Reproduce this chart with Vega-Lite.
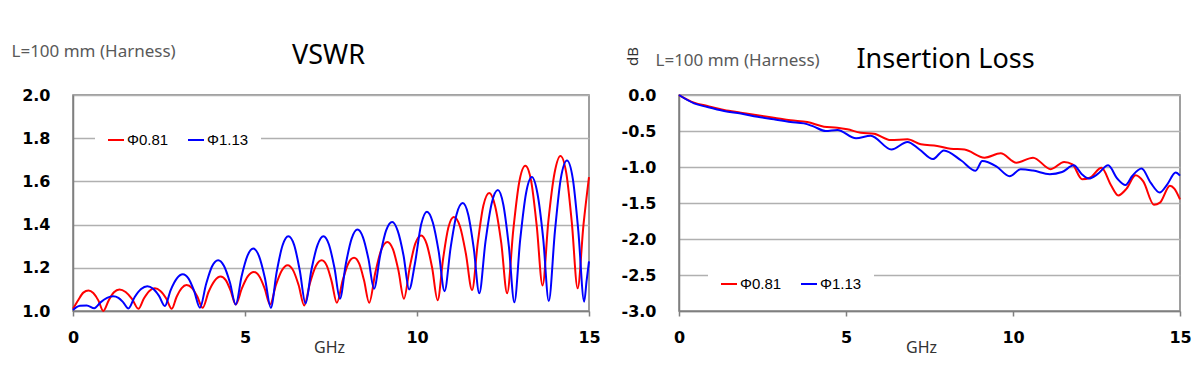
{
 "$schema": "https://vega.github.io/schema/vega-lite/v6.json",
 "padding": {"left": 10, "top": 40, "right": 5, "bottom": 5},
 "spacing": 19,
 "background": "white",
 "config": {
  "locale": {"number": {"decimal": ".", "thousands": ",", "grouping": [3], "currency": ["$", ""], "minus": "-"}},
  "view": {"stroke": "#7f7f7f", "strokeWidth": 1.5},
  "axis": {"domainColor": "#7f7f7f", "domainWidth": 1.5, "gridColor": "#b0b0b0", "gridWidth": 1.5, "tickColor": "#7f7f7f", "tickWidth": 1.5, "labelFont": "DejaVu Sans", "labelFontWeight": "bold", "labelFontSize": 16, "labelColor": "#000000", "titleFont": "Noto Sans", "titleFontWeight": "normal", "titleColor": "#333333", "labelFlush": false, "labelOverlap": false},
  "line": {"strokeWidth": 2, "interpolate": "monotone"}
 },
 "resolve": {"legend": {"color": "independent"}},
 "datasets": {
  "vswr": [
   {"s":"Φ0.81","f":0,"v":1.01},{"s":"Φ0.81","f":0.15,"v":1.05},{"s":"Φ0.81","f":0.30,"v":1.085},{"s":"Φ0.81","f":0.45,"v":1.095},
   {"s":"Φ0.81","f":0.59,"v":1.083},{"s":"Φ0.81","f":0.74,"v":1.048},{"s":"Φ0.81","f":0.88,"v":1.00},{"s":"Φ0.81","f":1.04,"v":1.05},
   {"s":"Φ0.81","f":1.19,"v":1.087},{"s":"Φ0.81","f":1.35,"v":1.10},{"s":"Φ0.81","f":1.53,"v":1.088},{"s":"Φ0.81","f":1.72,"v":1.055},
   {"s":"Φ0.81","f":1.90,"v":1.01},{"s":"Φ0.81","f":2.06,"v":1.058},{"s":"Φ0.81","f":2.22,"v":1.093},{"s":"Φ0.81","f":2.38,"v":1.105},
   {"s":"Φ0.81","f":2.54,"v":1.093},{"s":"Φ0.81","f":2.71,"v":1.058},{"s":"Φ0.81","f":2.87,"v":1.01},{"s":"Φ0.81","f":3.01,"v":1.065},
   {"s":"Φ0.81","f":3.16,"v":1.106},{"s":"Φ0.81","f":3.30,"v":1.12},{"s":"Φ0.81","f":3.46,"v":1.106},{"s":"Φ0.81","f":3.61,"v":1.068},
   {"s":"Φ0.81","f":3.77,"v":1.015},{"s":"Φ0.81","f":3.94,"v":1.088},{"s":"Φ0.81","f":4.12,"v":1.141},{"s":"Φ0.81","f":4.29,"v":1.16},
   {"s":"Φ0.81","f":4.44,"v":1.143},{"s":"Φ0.81","f":4.58,"v":1.095},{"s":"Φ0.81","f":4.73,"v":1.03},{"s":"Φ0.81","f":4.91,"v":1.105},
   {"s":"Φ0.81","f":5.08,"v":1.16},{"s":"Φ0.81","f":5.26,"v":1.18},{"s":"Φ0.81","f":5.42,"v":1.16},{"s":"Φ0.81","f":5.57,"v":1.105},
   {"s":"Φ0.81","f":5.73,"v":1.03},{"s":"Φ0.81","f":5.90,"v":1.121},{"s":"Φ0.81","f":6.07,"v":1.188},{"s":"Φ0.81","f":6.24,"v":1.212},
   {"s":"Φ0.81","f":6.40,"v":1.188},{"s":"Φ0.81","f":6.56,"v":1.119},{"s":"Φ0.81","f":6.72,"v":1.026},{"s":"Φ0.81","f":6.89,"v":1.13},
   {"s":"Φ0.81","f":7.06,"v":1.208},{"s":"Φ0.81","f":7.23,"v":1.235},{"s":"Φ0.81","f":7.38,"v":1.209},{"s":"Φ0.81","f":7.52,"v":1.136},
   {"s":"Φ0.81","f":7.67,"v":1.038},{"s":"Φ0.81","f":7.84,"v":1.142},{"s":"Φ0.81","f":8.00,"v":1.219},{"s":"Φ0.81","f":8.17,"v":1.246},
   {"s":"Φ0.81","f":8.32,"v":1.219},{"s":"Φ0.81","f":8.46,"v":1.142},{"s":"Φ0.81","f":8.61,"v":1.038},{"s":"Φ0.81","f":8.79,"v":1.179},
   {"s":"Φ0.81","f":8.96,"v":1.283},{"s":"Φ0.81","f":9.14,"v":1.32},{"s":"Φ0.81","f":9.30,"v":1.286},{"s":"Φ0.81","f":9.46,"v":1.188},
   {"s":"Φ0.81","f":9.62,"v":1.057},{"s":"Φ0.81","f":9.79,"v":1.203},{"s":"Φ0.81","f":9.95,"v":1.312},{"s":"Φ0.81","f":10.12,"v":1.35},
   {"s":"Φ0.81","f":10.28,"v":1.311},{"s":"Φ0.81","f":10.44,"v":1.20},{"s":"Φ0.81","f":10.60,"v":1.05},{"s":"Φ0.81","f":10.76,"v":1.243},
   {"s":"Φ0.81","f":10.91,"v":1.385},{"s":"Φ0.81","f":11.07,"v":1.435},{"s":"Φ0.81","f":11.25,"v":1.391},{"s":"Φ0.81","f":11.42,"v":1.266},
   {"s":"Φ0.81","f":11.60,"v":1.097},{"s":"Φ0.81","f":11.77,"v":1.32},{"s":"Φ0.81","f":11.93,"v":1.488},{"s":"Φ0.81","f":12.10,"v":1.546},
   {"s":"Φ0.81","f":12.27,"v":1.486},{"s":"Φ0.81","f":12.45,"v":1.314},{"s":"Φ0.81","f":12.62,"v":1.082},{"s":"Φ0.81","f":12.80,"v":1.377},
   {"s":"Φ0.81","f":12.97,"v":1.595},{"s":"Φ0.81","f":13.15,"v":1.672},{"s":"Φ0.81","f":13.32,"v":1.60},{"s":"Φ0.81","f":13.48,"v":1.395},
   {"s":"Φ0.81","f":13.65,"v":1.118},{"s":"Φ0.81","f":13.82,"v":1.418},{"s":"Φ0.81","f":14.00,"v":1.64},{"s":"Φ0.81","f":14.17,"v":1.718},
   {"s":"Φ0.81","f":14.34,"v":1.638},{"s":"Φ0.81","f":14.50,"v":1.41},{"s":"Φ0.81","f":14.67,"v":1.105},{"s":"Φ0.81","f":14.84,"v":1.40},
   {"s":"Φ0.81","f":15.00,"v":1.62},
   {"s":"Φ1.13","f":0,"v":1.005},{"s":"Φ1.13","f":0.2,"v":1.024},{"s":"Φ1.13","f":0.4,"v":1.026},{"s":"Φ1.13","f":0.62,"v":1.013},
   {"s":"Φ1.13","f":0.80,"v":1.04},{"s":"Φ1.13","f":0.99,"v":1.061},{"s":"Φ1.13","f":1.17,"v":1.068},{"s":"Φ1.13","f":1.32,"v":1.061},
   {"s":"Φ1.13","f":1.46,"v":1.04},{"s":"Φ1.13","f":1.61,"v":1.012},{"s":"Φ1.13","f":1.79,"v":1.064},{"s":"Φ1.13","f":1.98,"v":1.102},
   {"s":"Φ1.13","f":2.16,"v":1.115},{"s":"Φ1.13","f":2.33,"v":1.103},{"s":"Φ1.13","f":2.50,"v":1.07},{"s":"Φ1.13","f":2.67,"v":1.023},
   {"s":"Φ1.13","f":2.84,"v":1.097},{"s":"Φ1.13","f":3.02,"v":1.151},{"s":"Φ1.13","f":3.19,"v":1.17},{"s":"Φ1.13","f":3.36,"v":1.15},
   {"s":"Φ1.13","f":3.52,"v":1.093},{"s":"Φ1.13","f":3.69,"v":1.015},{"s":"Φ1.13","f":3.87,"v":1.125},{"s":"Φ1.13","f":4.04,"v":1.206},
   {"s":"Φ1.13","f":4.22,"v":1.235},{"s":"Φ1.13","f":4.39,"v":1.208},{"s":"Φ1.13","f":4.56,"v":1.133},{"s":"Φ1.13","f":4.73,"v":1.03},
   {"s":"Φ1.13","f":4.90,"v":1.16},{"s":"Φ1.13","f":5.07,"v":1.255},{"s":"Φ1.13","f":5.24,"v":1.289},{"s":"Φ1.13","f":5.41,"v":1.253},
   {"s":"Φ1.13","f":5.58,"v":1.152},{"s":"Φ1.13","f":5.75,"v":1.015},{"s":"Φ1.13","f":5.92,"v":1.18},{"s":"Φ1.13","f":6.09,"v":1.303},
   {"s":"Φ1.13","f":6.26,"v":1.346},{"s":"Φ1.13","f":6.43,"v":1.305},{"s":"Φ1.13","f":6.59,"v":1.19},{"s":"Φ1.13","f":6.76,"v":1.035},
   {"s":"Φ1.13","f":6.93,"v":1.19},{"s":"Φ1.13","f":7.11,"v":1.306},{"s":"Φ1.13","f":7.28,"v":1.346},{"s":"Φ1.13","f":7.44,"v":1.308},
   {"s":"Φ1.13","f":7.60,"v":1.20},{"s":"Φ1.13","f":7.76,"v":1.057},{"s":"Φ1.13","f":7.93,"v":1.217},{"s":"Φ1.13","f":8.10,"v":1.335},
   {"s":"Φ1.13","f":8.27,"v":1.377},{"s":"Φ1.13","f":8.43,"v":1.341},{"s":"Φ1.13","f":8.59,"v":1.24},{"s":"Φ1.13","f":8.75,"v":1.103},
   {"s":"Φ1.13","f":8.93,"v":1.258},{"s":"Φ1.13","f":9.10,"v":1.372},{"s":"Φ1.13","f":9.28,"v":1.412},{"s":"Φ1.13","f":9.44,"v":1.371},
   {"s":"Φ1.13","f":9.61,"v":1.256},{"s":"Φ1.13","f":9.77,"v":1.10},{"s":"Φ1.13","f":9.94,"v":1.22},{"s":"Φ1.13","f":10.12,"v":1.40},
   {"s":"Φ1.13","f":10.29,"v":1.46},{"s":"Φ1.13","f":10.46,"v":1.41},{"s":"Φ1.13","f":10.63,"v":1.276},{"s":"Φ1.13","f":10.80,"v":1.092},
   {"s":"Φ1.13","f":10.98,"v":1.296},{"s":"Φ1.13","f":11.15,"v":1.447},{"s":"Φ1.13","f":11.33,"v":1.50},{"s":"Φ1.13","f":11.49,"v":1.446},
   {"s":"Φ1.13","f":11.65,"v":1.29},{"s":"Φ1.13","f":11.81,"v":1.082},{"s":"Φ1.13","f":11.99,"v":1.32},{"s":"Φ1.13","f":12.17,"v":1.498},
   {"s":"Φ1.13","f":12.35,"v":1.56},{"s":"Φ1.13","f":12.51,"v":1.492},{"s":"Φ1.13","f":12.67,"v":1.30},{"s":"Φ1.13","f":12.83,"v":1.04},
   {"s":"Φ1.13","f":13.00,"v":1.33},{"s":"Φ1.13","f":13.17,"v":1.545},{"s":"Φ1.13","f":13.34,"v":1.62},{"s":"Φ1.13","f":13.50,"v":1.545},
   {"s":"Φ1.13","f":13.67,"v":1.333},{"s":"Φ1.13","f":13.83,"v":1.046},{"s":"Φ1.13","f":14.01,"v":1.37},{"s":"Φ1.13","f":14.18,"v":1.613},
   {"s":"Φ1.13","f":14.36,"v":1.697},{"s":"Φ1.13","f":14.53,"v":1.612},{"s":"Φ1.13","f":14.69,"v":1.37},{"s":"Φ1.13","f":14.86,"v":1.043},
   {"s":"Φ1.13","f":14.93,"v":1.14},{"s":"Φ1.13","f":15.00,"v":1.23}
  ],
  "il": [
   {"s":"Φ0.81","f":0,"v":0},{"s":"Φ0.81","f":0.45,"v":-0.106},{"s":"Φ0.81","f":0.85,"v":-0.153},{"s":"Φ0.81","f":1.35,"v":-0.208},
   {"s":"Φ0.81","f":1.85,"v":-0.245},{"s":"Φ0.81","f":2.35,"v":-0.282},{"s":"Φ0.81","f":2.84,"v":-0.315},{"s":"Φ0.81","f":3.34,"v":-0.352},
   {"s":"Φ0.81","f":3.84,"v":-0.375},{"s":"Φ0.81","f":4.34,"v":-0.44},{"s":"Φ0.81","f":4.74,"v":-0.454},{"s":"Φ0.81","f":5.04,"v":-0.477},
   {"s":"Φ0.81","f":5.44,"v":-0.523},{"s":"Φ0.81","f":5.84,"v":-0.537},{"s":"Φ0.81","f":6.34,"v":-0.625},{"s":"Φ0.81","f":6.84,"v":-0.616},
   {"s":"Φ0.81","f":7.24,"v":-0.685},{"s":"Φ0.81","f":7.73,"v":-0.708},{"s":"Φ0.81","f":8.13,"v":-0.745},{"s":"Φ0.81","f":8.55,"v":-0.757},
   {"s":"Φ0.81","f":9.15,"v":-0.87},{"s":"Φ0.81","f":9.63,"v":-0.81},{"s":"Φ0.81","f":10.1,"v":-0.94},{"s":"Φ0.81","f":10.6,"v":-0.87},
   {"s":"Φ0.81","f":11.13,"v":-1.03},{"s":"Φ0.81","f":11.53,"v":-0.93},{"s":"Φ0.81","f":11.78,"v":-0.965},{"s":"Φ0.81","f":12.07,"v":-1.17},
   {"s":"Φ0.81","f":12.3,"v":-1.15},{"s":"Φ0.81","f":12.65,"v":-1.012},{"s":"Φ0.81","f":12.93,"v":-1.25},{"s":"Φ0.81","f":13.15,"v":-1.395},
   {"s":"Φ0.81","f":13.4,"v":-1.3},{"s":"Φ0.81","f":13.67,"v":-1.114},{"s":"Φ0.81","f":13.9,"v":-1.2},{"s":"Φ0.81","f":14.22,"v":-1.525},
   {"s":"Φ0.81","f":14.4,"v":-1.495},{"s":"Φ0.81","f":14.7,"v":-1.26},{"s":"Φ0.81","f":14.83,"v":-1.3},{"s":"Φ0.81","f":15.0,"v":-1.45},
   {"s":"Φ1.13","f":0,"v":0},{"s":"Φ1.13","f":0.45,"v":-0.116},{"s":"Φ1.13","f":0.85,"v":-0.167},{"s":"Φ1.13","f":1.35,"v":-0.222},
   {"s":"Φ1.13","f":1.85,"v":-0.258},{"s":"Φ1.13","f":2.35,"v":-0.302},{"s":"Φ1.13","f":2.84,"v":-0.338},{"s":"Φ1.13","f":3.34,"v":-0.375},
   {"s":"Φ1.13","f":3.74,"v":-0.394},{"s":"Φ1.13","f":4.04,"v":-0.44},{"s":"Φ1.13","f":4.39,"v":-0.50},{"s":"Φ1.13","f":4.74,"v":-0.485},
   {"s":"Φ1.13","f":5.3,"v":-0.6},{"s":"Φ1.13","f":5.74,"v":-0.566},{"s":"Φ1.13","f":6.36,"v":-0.757},{"s":"Φ1.13","f":6.84,"v":-0.652},
   {"s":"Φ1.13","f":7.2,"v":-0.757},{"s":"Φ1.13","f":7.6,"v":-0.89},{"s":"Φ1.13","f":7.93,"v":-0.77},{"s":"Φ1.13","f":8.45,"v":-0.91},
   {"s":"Φ1.13","f":8.88,"v":-1.052},{"s":"Φ1.13","f":9.08,"v":-0.917},{"s":"Φ1.13","f":9.5,"v":-0.99},{"s":"Φ1.13","f":9.9,"v":-1.128},
   {"s":"Φ1.13","f":10.23,"v":-1.032},{"s":"Φ1.13","f":10.6,"v":-1.05},{"s":"Φ1.13","f":11.1,"v":-1.10},{"s":"Φ1.13","f":11.47,"v":-1.07},
   {"s":"Φ1.13","f":11.82,"v":-0.977},{"s":"Φ1.13","f":12.06,"v":-1.10},{"s":"Φ1.13","f":12.27,"v":-1.16},{"s":"Φ1.13","f":12.53,"v":-1.10},
   {"s":"Φ1.13","f":12.85,"v":-0.977},{"s":"Φ1.13","f":13.12,"v":-1.16},{"s":"Φ1.13","f":13.37,"v":-1.25},{"s":"Φ1.13","f":13.57,"v":-1.125},
   {"s":"Φ1.13","f":13.85,"v":-1.022},{"s":"Φ1.13","f":14.12,"v":-1.218},{"s":"Φ1.13","f":14.39,"v":-1.355},{"s":"Φ1.13","f":14.62,"v":-1.24},
   {"s":"Φ1.13","f":14.87,"v":-1.077},{"s":"Φ1.13","f":15.0,"v":-1.12}
  ]
 },
 "hconcat": [
  {
   "width": 516, "height": 216,
   "data": {"name": "vswr"},
   "layer": [
    {
     "mark": {"type": "line"},
     "encoding": {
      "x": {"field": "f", "type": "quantitative", "scale": {"domain": [0, 15], "nice": false},
            "axis": {"orient": "bottom", "values": [0, 5, 10, 15], "grid": false, "tickSize": 5, "labelPadding": 13,
                     "title": "GHz", "titleFontSize": 16, "titleX": 256, "titleY": 36, "titleBaseline": "middle", "titleAlign": "center"}},
      "y": {"field": "v", "type": "quantitative", "scale": {"domain": [1, 2], "nice": false, "zero": false},
            "axis": {"orient": "left", "values": [1, 1.2, 1.4, 1.6, 1.8, 2], "format": ".1f", "ticks": false, "labelPadding": 23,
                     "title": "L=100 mm (Harness)", "titleAngle": 0, "titleAlign": "left", "titleBaseline": "middle",
                     "titleX": -62, "titleY": -44, "titleFontSize": 17, "titleColor": "#595959"}},
      "color": {"field": "s", "type": "nominal", "scale": {"domain": ["Φ0.81", "Φ1.13"], "range": ["#ff0000", "#0000ff"]},
                "legend": {"orient": "none", "legendX": 22, "legendY": 24, "direction": "horizontal", "title": null,
                           "fillColor": "#ffffff", "padding": 12, "symbolType": "stroke", "symbolSize": 256, "symbolStrokeWidth": 2,
                           "labelFont": "Liberation Sans", "labelFontSize": 15, "labelColor": "#000000", "columnPadding": 15, "labelOffset": 2}}
     }
    },
    {
     "mark": {"type": "line", "opacity": 0},
     "encoding": {
      "x": {"field": "f", "type": "quantitative", "scale": {"domain": [0, 15], "nice": false},
            "axis": {"orient": "top", "labels": false, "ticks": false, "domain": false, "grid": false,
                     "title": "VSWR", "titleFontSize": 27, "titleColor": "#000000", "titleX": 255, "titleY": -40,
                     "titleBaseline": "middle", "titleAlign": "center"}},
      "y": {"field": "v", "type": "quantitative", "scale": {"domain": [1, 2], "nice": false, "zero": false},
            "axis": {"orient": "right", "labels": false, "ticks": false, "domain": false, "grid": false, "title": null}},
      "detail": {"field": "s"}
     }
    }
   ]
  },
  {
   "width": 501, "height": 216,
   "data": {"name": "il"},
   "layer": [
    {
     "mark": {"type": "line"},
     "encoding": {
      "x": {"field": "f", "type": "quantitative", "scale": {"domain": [0, 15], "nice": false},
            "axis": {"orient": "bottom", "values": [0, 5, 10, 15], "grid": false, "tickSize": 5, "labelPadding": 13,
                     "title": "GHz", "titleFontSize": 16, "titleX": 242, "titleY": 36, "titleBaseline": "middle", "titleAlign": "center"}},
      "y": {"field": "v", "type": "quantitative", "scale": {"domain": [-3, 0], "nice": false},
            "axis": {"orient": "left", "values": [-3, -2.5, -2, -1.5, -1, -0.5, 0], "format": ".1f", "ticks": false, "labelPadding": 23,
                     "title": "dB", "titleAngle": 270, "titleAlign": "center", "titleBaseline": "middle",
                     "titleX": -47, "titleY": -39, "titleFontSize": 15, "titleColor": "#333333"}},
      "color": {"field": "s", "type": "nominal", "scale": {"domain": ["Φ0.81", "Φ1.13"], "range": ["#ff0000", "#0000ff"]},
                "legend": {"orient": "none", "legendX": 29, "legendY": 168, "direction": "horizontal", "title": null,
                           "fillColor": "#ffffff", "padding": 12, "symbolType": "stroke", "symbolSize": 256, "symbolStrokeWidth": 2,
                           "labelFont": "Liberation Sans", "labelFontSize": 15, "labelColor": "#000000", "columnPadding": 15, "labelOffset": 2}}
     }
    },
    {
     "mark": {"type": "line", "opacity": 0},
     "encoding": {
      "x": {"field": "f", "type": "quantitative", "scale": {"domain": [0, 15], "nice": false},
            "axis": {"orient": "top", "labels": false, "ticks": false, "domain": false, "grid": false,
                     "title": "Insertion Loss", "titleFontSize": 27, "titleColor": "#000000", "titleX": 266, "titleY": -36,
                     "titleBaseline": "middle", "titleAlign": "center"}},
      "y": {"field": "v", "type": "quantitative", "axis": null},
      "detail": {"field": "s"}
     }
    },
    {
     "mark": {"type": "line", "opacity": 0},
     "encoding": {
      "x": {"field": "f", "type": "quantitative", "axis": null},
      "y": {"field": "v", "type": "quantitative", "scale": {"domain": [-3, 0], "nice": false},
            "axis": {"orient": "right", "labels": false, "ticks": false, "domain": false, "grid": false,
                     "title": "L=100 mm (Harness)", "titleAngle": 0, "titleAlign": "left", "titleBaseline": "middle",
                     "titleX": -525, "titleY": -35, "titleFontSize": 17, "titleColor": "#595959"}},
      "detail": {"field": "s"}
     }
    }
   ]
  }
 ]
}
